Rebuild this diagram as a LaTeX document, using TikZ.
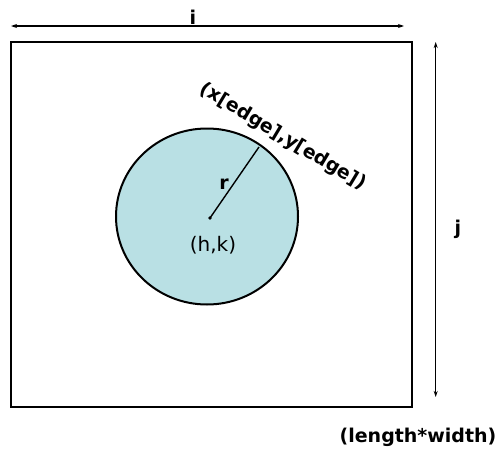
\documentclass[tikz,border=0pt]{standalone}
\usepackage{fontspec}
\setmainfont{DejaVu Sans}
\usetikzlibrary{arrows.meta}
\definecolor{circfill}{RGB}{185,224,228}
\tikzset{
  dimarrow/.style={line width=1.1pt,{Stealth[length=6pt,width=4pt]}-{Stealth[length=6pt,width=4pt]}},
  boldlabel/.style={font=\fontsize{19}{22}\selectfont\bfseries,inner sep=0pt},
  plainlabel/.style={font=\fontsize{20}{23}\selectfont,inner sep=0pt}
}
\begin{document}
\begin{tikzpicture}[x=1pt,y=-1pt]
\useasboundingbox (0,0) rectangle (501,450);
% outer rectangle
\draw[line width=2pt] (10.5,41.7) rectangle (411.7,406.5);
% circle
\draw[line width=2pt,fill=circfill] (207,216.5) ellipse [x radius=91,y radius=88];
% centre and edge
\coordinate (c) at (210,218);
\coordinate (e) at (259,147);
\fill (c) circle (1.8);
\draw[line width=1.4pt] (c) -- (e);
\node[boldlabel] (r) at (224,184) {r};
\node[plainlabel] (hk) at (213,245) {(h,k)};
\node[boldlabel,rotate=-31] (xy) at (283,137) {(x[edge],y[edge])};
% dimension arrows
\coordinate (ha) at (11,26);
\coordinate (hb) at (404,26);
\draw[dimarrow] (ha) -- (hb);
\node[boldlabel] (i) at (193,17) {i};
\coordinate (va) at (435.7,42);
\coordinate (vb) at (435.7,397);
\draw[dimarrow] (va) -- (vb);
\node[boldlabel] (j) at (458,229) {j};
\node[boldlabel] (lw) at (418,437) {(length*width)};
\end{tikzpicture}
\end{document}
